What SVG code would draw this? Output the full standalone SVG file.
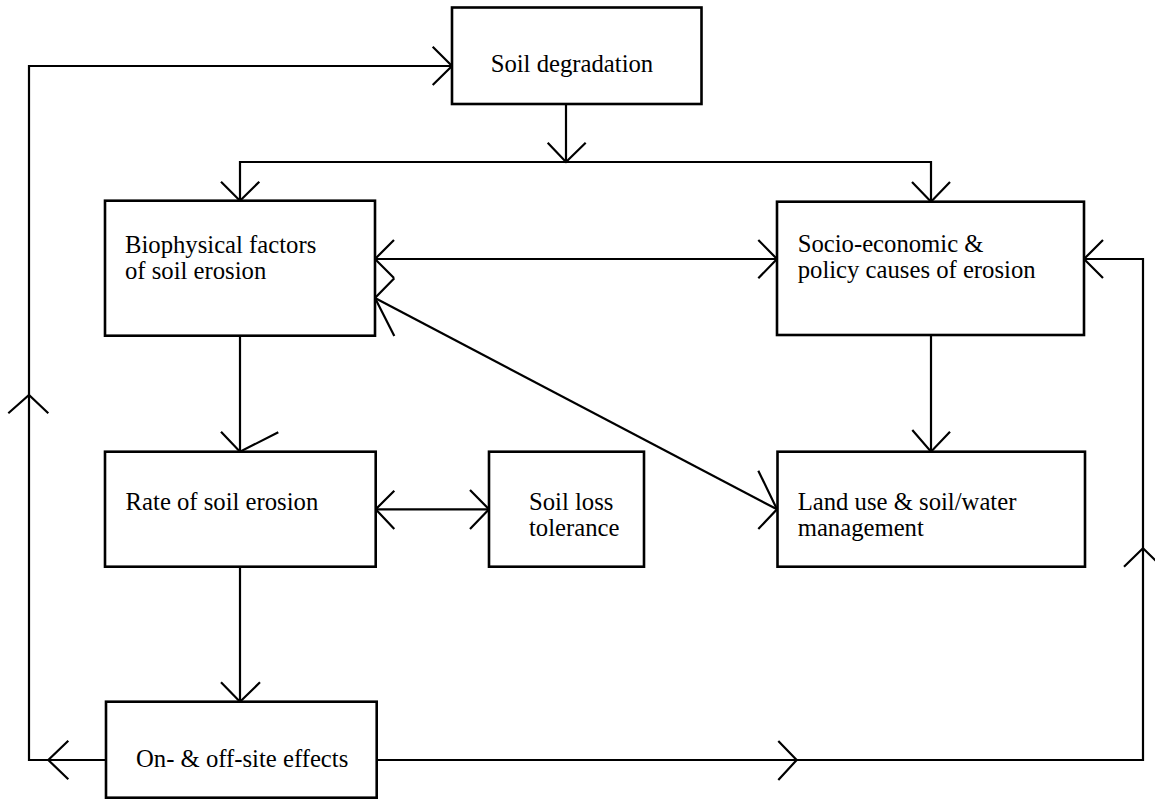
<svg xmlns="http://www.w3.org/2000/svg" width="1155" height="799" viewBox="0 0 1155 799">
<style>
.box{fill:#fff;stroke:#000;stroke-width:2.6}
.ln{fill:none;stroke:#000;stroke-width:2.2;stroke-linejoin:miter}
.ah{fill:none;stroke:#000;stroke-width:2.2;stroke-linejoin:miter}
text{font-family:'Liberation Serif','DejaVu Serif','Times New Roman',Times,serif;font-size:24.7px;fill:#000}
</style>
<rect width="1155" height="799" fill="#fff"/>
<g id="connectors">
<polyline class="ln" points="106,760 29,760 29,66 452,66"/>
<polyline class="ah" points="432.7,46.7 452,66 432.7,85"/>
<polyline class="ah" points="8.3,413.3 29,395 48.3,413.3"/>
<polyline class="ah" points="68.3,740.7 48.3,760 68.3,779.3"/>
<line class="ln" x1="566" y1="104" x2="566" y2="162"/>
<polyline class="ah" points="547.7,142.7 566,162 585.7,142.7"/>
<polyline class="ln" points="240,200.7 240,162 931,162 931,201.7"/>
<polyline class="ah" points="221,181.7 240,200.7 259.3,181.7"/>
<polyline class="ah" points="912,182 931,201.7 950,182"/>
<line class="ln" x1="375" y1="259" x2="777" y2="259"/>
<polyline class="ah" points="394,240 375,259 394,278"/>
<polyline class="ah" points="758.3,240 777,259 758.3,278.3"/>
<line class="ln" x1="375" y1="298" x2="777" y2="509.3"/>
<polyline class="ah" points="394.3,278.3 375,298 394.3,336"/>
<polyline class="ah" points="758.3,470.7 777,509.3 758.3,529"/>
<line class="ln" x1="240" y1="335.7" x2="240" y2="451.7"/>
<polyline class="ah" points="221,431.7 240,451.7 278.3,432.3"/>
<line class="ln" x1="931" y1="335" x2="931" y2="451.7"/>
<polyline class="ah" points="912.3,430 931,451.7 950,431.7"/>
<line class="ln" x1="375.7" y1="509.3" x2="489" y2="509.3"/>
<polyline class="ah" points="394.3,490.7 375.7,509.3 394.3,529"/>
<polyline class="ah" points="470,490 489,509.3 470,529"/>
<line class="ln" x1="240" y1="566.7" x2="240" y2="701.7"/>
<polyline class="ah" points="221,682.3 240,701.7 260,682.3"/>
<polyline class="ln" points="376.7,760 1143,760 1143,259 1084,259"/>
<polyline class="ah" points="778.3,741 796.7,760 778.3,780"/>
<polyline class="ah" points="1124,566.7 1143,548.3 1162,566.7"/>
<polyline class="ah" points="1103,240 1084,259 1103,278"/>
</g>
<g id="soil-degradation">
<rect class="box" x="452" y="7.5" width="249.5" height="96.5"/>
<text x="490.7" y="72" font-family="Liberation Serif, DejaVu Serif, serif">Soil degradation</text>
</g>
<g id="biophysical">
<rect class="box" x="105" y="200.7" width="270" height="135"/>
<text x="125" y="252.7" font-family="Liberation Serif, DejaVu Serif, serif">Biophysical factors</text>
<text x="125" y="279" font-family="Liberation Serif, DejaVu Serif, serif">of soil erosion</text>
</g>
<g id="socio-economic">
<rect class="box" x="777" y="201.7" width="307" height="133.3"/>
<text x="797.7" y="252" font-family="Liberation Serif, DejaVu Serif, serif">Socio-economic &amp;</text>
<text x="797.7" y="278" font-family="Liberation Serif, DejaVu Serif, serif">policy causes of erosion</text>
</g>
<g id="rate">
<rect class="box" x="105" y="451.7" width="270.7" height="115"/>
<text x="125.6" y="510" font-family="Liberation Serif, DejaVu Serif, serif">Rate of soil erosion</text>
</g>
<g id="soil-loss">
<rect class="box" x="489" y="451.7" width="155" height="115"/>
<text x="529" y="510" font-family="Liberation Serif, DejaVu Serif, serif">Soil loss</text>
<text x="529" y="536" font-family="Liberation Serif, DejaVu Serif, serif">tolerance</text>
</g>
<g id="land-use">
<rect class="box" x="777.5" y="451.7" width="307.5" height="115"/>
<text x="797.7" y="510" font-family="Liberation Serif, DejaVu Serif, serif">Land use &amp; soil/water</text>
<text x="797.7" y="536" font-family="Liberation Serif, DejaVu Serif, serif">management</text>
</g>
<g id="on-off-site">
<rect class="box" x="106" y="701.7" width="270.7" height="96"/>
<text x="136" y="766.7" font-family="Liberation Serif, DejaVu Serif, serif">On- &amp; off-site effects</text>
</g>
</svg>
